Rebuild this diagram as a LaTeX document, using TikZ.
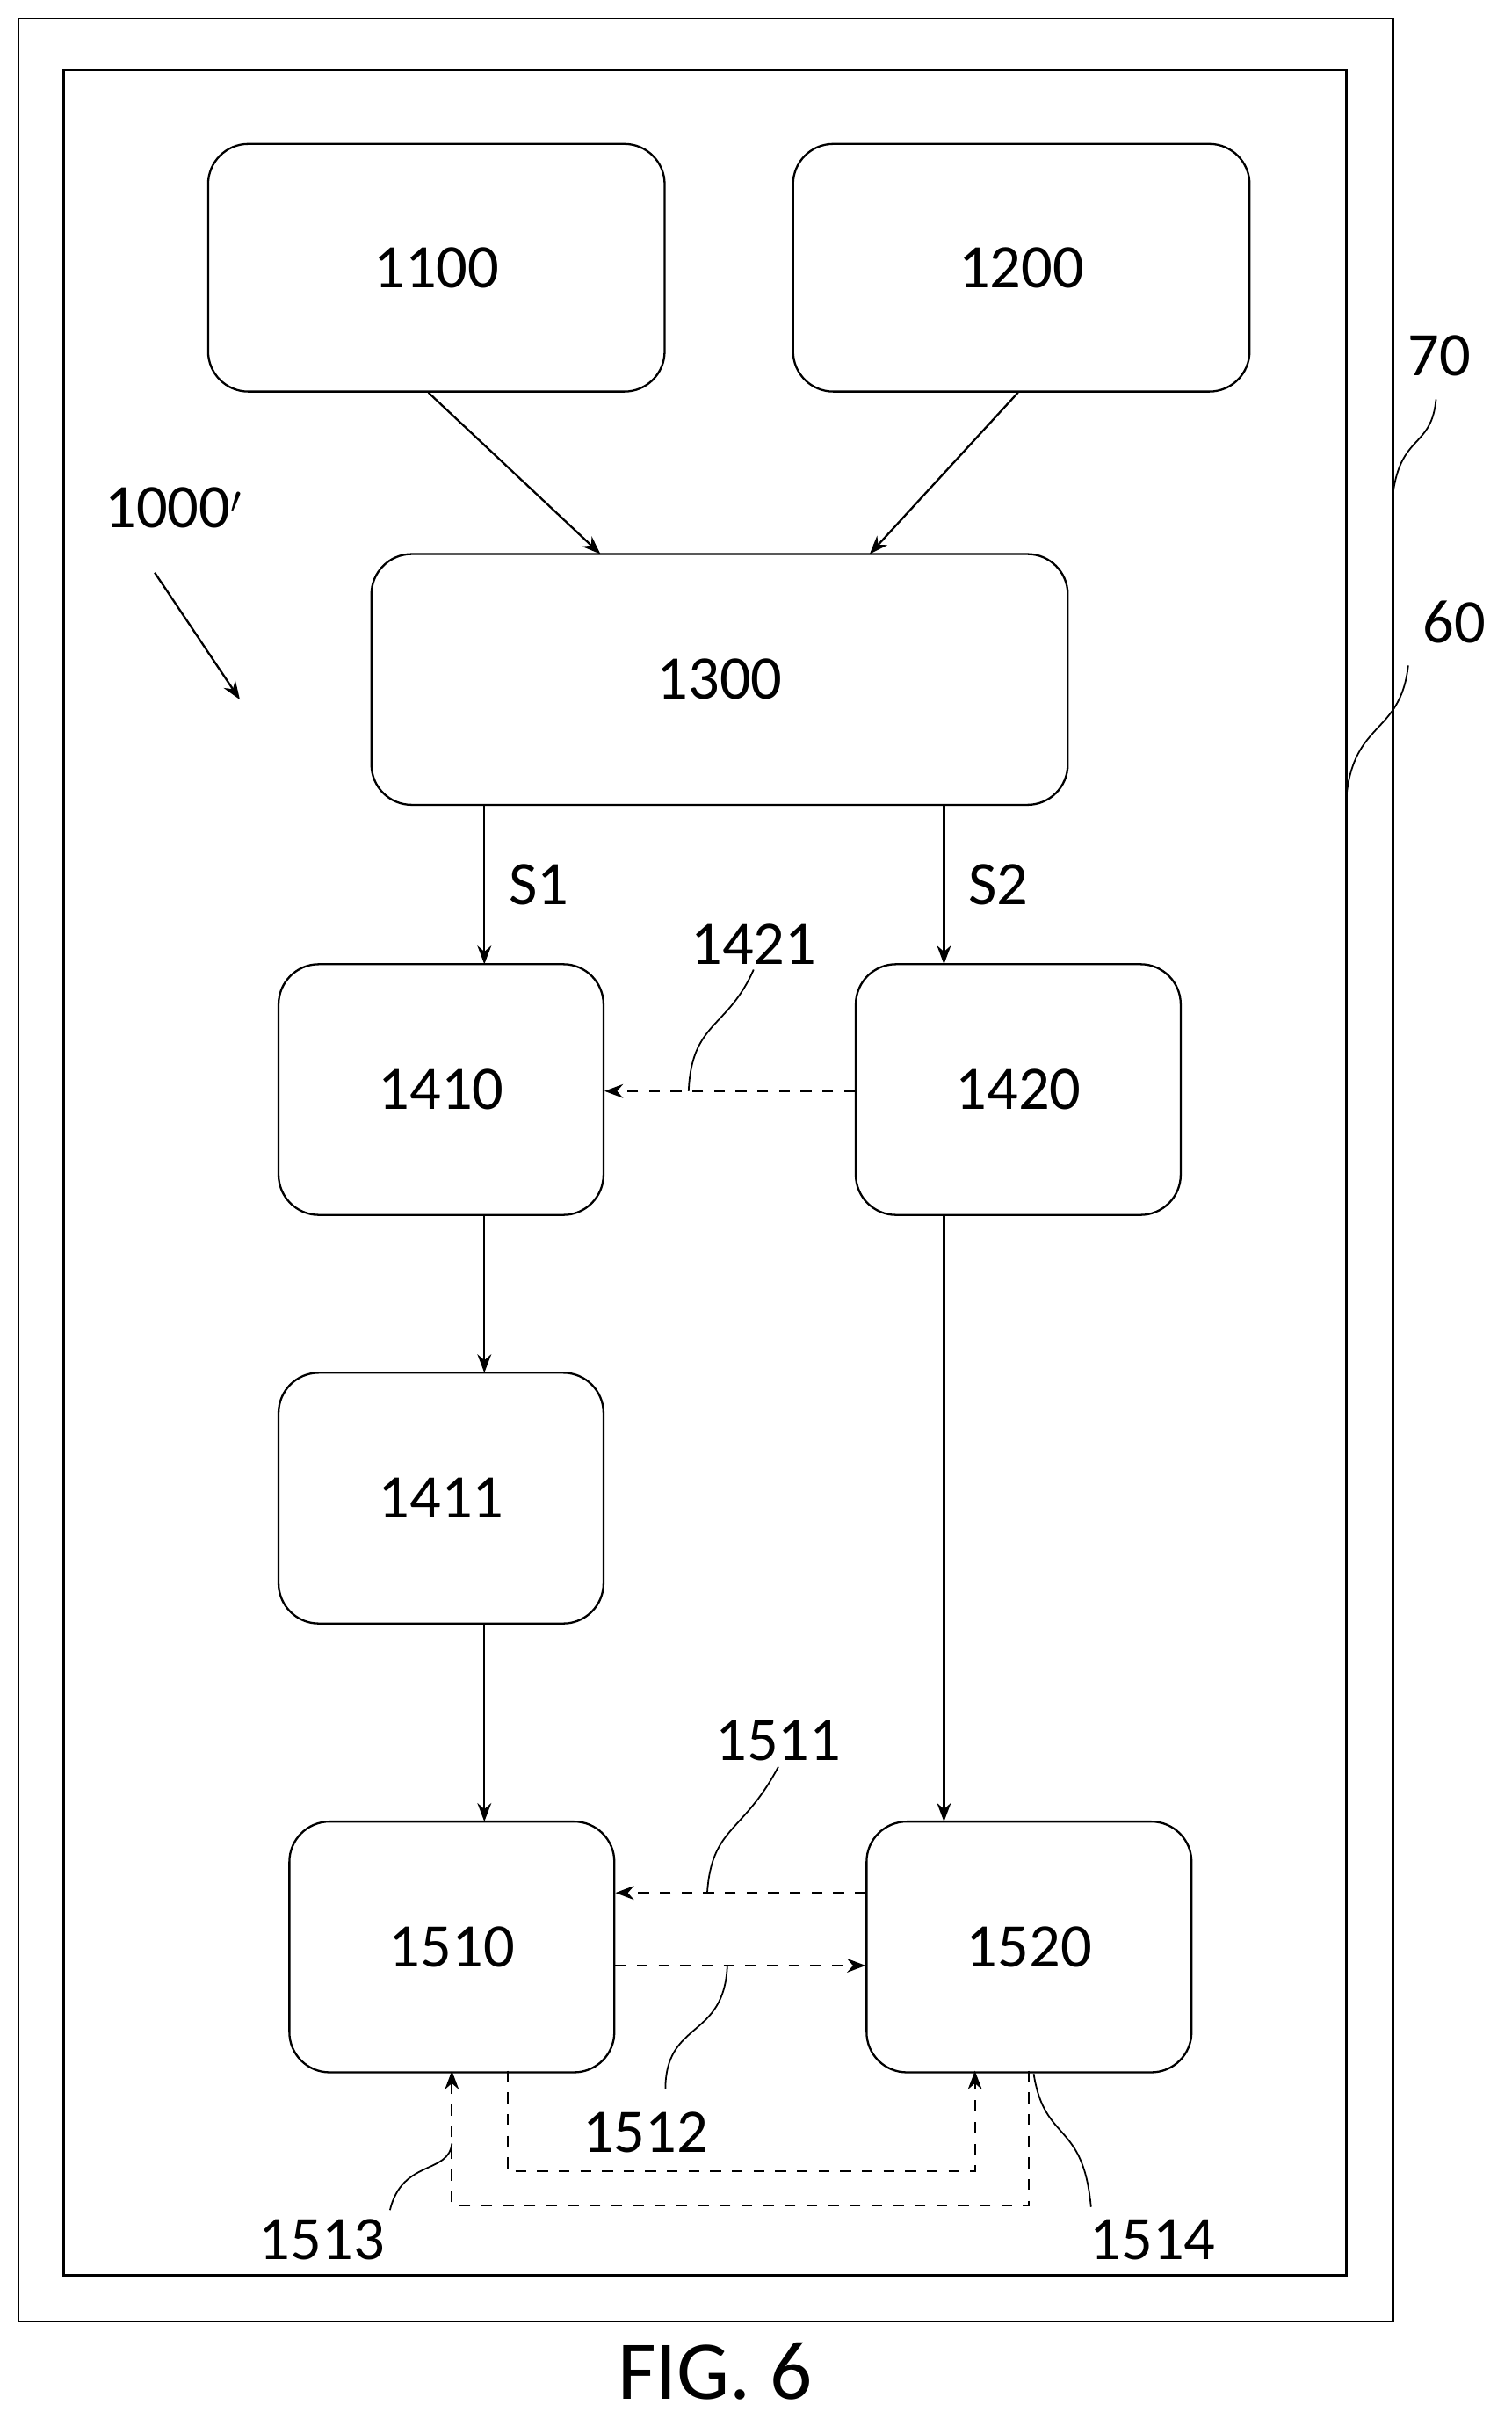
\documentclass[tikz,border=0pt]{standalone}
\usepackage{fontspec}
\setmainfont{Carlito}
\usetikzlibrary{arrows.meta, calc}
\tikzset{
	block/.style={draw, rounded corners=26pt, line width=1.3pt, inner sep=0pt}, % the rounded boxes
	flow/.style={-{Stealth[length=12pt,width=9pt]}, line width=1.3pt}, % solid arrows
	link/.style={flow, dashed, dash pattern=on 7pt off 7pt}, % dashed arrows
	lead/.style={line width=1pt}, % leaders of the reference numbers
	every node/.style={font=\fontsize{40}{48}\selectfont},
}
\begin{document}
\begin{tikzpicture}[x=1pt,y=-1pt]
		\useasboundingbox (0,0) rectangle (977,1563);
		\draw[line width=1.5pt] (12,12) rectangle (900,1500);
		\draw[line width=1.5pt] (41,45) rectangle (870,1470);

		\node[block, minimum width=295pt, minimum height=160pt] (1100) at (282,173) {1100};
		\node[block, minimum width=295pt, minimum height=160pt] (1200) at (660,173) {1200};
		\node[block, minimum width=450pt, minimum height=162pt] (1300) at (465,439) {1300};
		\node[block, minimum width=210pt, minimum height=162pt] (1410) at (285,704) {1410};
		\node[block, minimum width=210pt, minimum height=162pt] (1420) at (658,704) {1420};
		\node[block, minimum width=210pt, minimum height=162pt] (1411) at (285,968) {1411};
		\node[block, minimum width=210pt, minimum height=162pt] (1510) at (292,1258) {1510};
		\node[block, minimum width=210pt, minimum height=162pt] (1520) at (665,1258) {1520};

		\draw[flow] (1100.south west) ++(143,0) coordinate (a1) -- (388,358);
		\draw[flow] (1200.south west) ++(146,0) coordinate (a2) -- (562,358);
		\draw[flow] (313,520) -- (313,623) node[midway, right=12pt] {S1};
		\draw[flow] (610,520) -- (610,623) node[midway, right=12pt] {S2};
		\draw[link] (1420.west |- 0,705) -- (1410.east |- 0,705);
		\draw[flow] (313,785) -- (313,887);
		\draw[flow] (313,1049) -- (313,1177);
		\draw[flow] (610,785) -- (610,1177);
		\draw[link] (1520.west |- 0,1223) -- (1510.east |- 0,1223);
		\draw[link] (1510.east |- 0,1270) -- (1520.west |- 0,1270);
		\draw[link] (665,1338) -- (665,1425) -- (292,1425) -- (292,1338);
		\draw[link] (328,1338) -- (328,1403) -- (630,1403) -- (630,1338);

		% reference numbers
		\node (n1421) at (487,610) {1421};
		\draw[lead] (445,705) .. controls (447,660) and (470,665) .. (n1421.south);
		\node (n1511) at (503,1125) {1511};
		\draw[lead] (457,1223) .. controls (460,1180) and (480,1185) .. (n1511.south);
		\node (n1512) at (417,1378) {1512};
		\draw[lead] (470,1270) .. controls (468,1318) and (430,1305) .. (430,1350);
		\node (n1513) at (208,1447) {1513};
		\draw[lead] (292,1385) .. controls (290,1405) and (260,1395) .. (252,1428);
		\node (n1514) at (745,1447) {1514};
		\draw[lead] (668,1340) .. controls (675,1385) and (700,1370) .. (705,1426);
		\node (n1000) at (112,328) {1000$'$};
		\draw[flow] (100,370) -- (155,452);
		\node (n70) at (930,230) {70};
		\coordinate (f70) at (900,320);
		\draw[lead] (f70) .. controls (905,280) and (925,290) .. (928,258);
		\node (n60) at (940,402) {60};
		\coordinate (f60) at (870,515);
		\draw[lead] (f60) .. controls (875,465) and (905,475) .. (910,430);
		\node[font=\fontsize{54}{60}\selectfont] (fig) at (462,1532) {FIG. 6};
	\end{tikzpicture}
\end{document}
